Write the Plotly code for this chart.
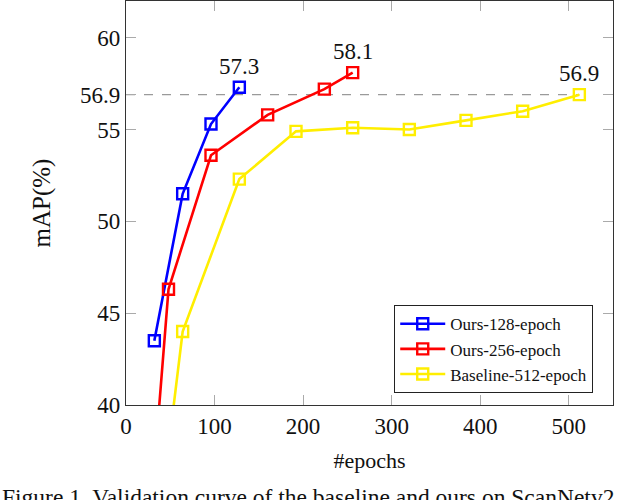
import plotly.graph_objects as go

# Data
ours128_x = [32, 64, 96, 128]
ours128_y = [43.5, 51.5, 55.3, 57.3]

ours256_x = [32, 48, 96, 160, 224, 256]
ours256_y = [36.6, 46.3, 53.6, 55.8, 57.2, 58.1]

base512_x = [32, 64, 128, 192, 256, 320, 384, 448, 512]
base512_y = [31.3, 44.0, 52.3, 54.9, 55.1, 55.0, 55.5, 56.0, 56.9]

ref_level = 56.9
ytick_vals = [40, 45, 50, 55, 56.9, 60]
ytick_text = ["40", "45", "50", "55", "56.9", "60"]
xtick_vals = [0, 100, 200, 300, 400, 500]

SERIF = "Liberation Serif, Times New Roman, serif"

fig = go.Figure()

# dashed reference line
fig.add_trace(go.Scatter(
    x=[0, base512_x[-1]], y=[ref_level, ref_level], mode="lines",
    line=dict(color="#9a9a9a", width=1.3, dash="dash"),
    showlegend=False, hoverinfo="skip"))

series = [
    ("Ours-128-epoch", ours128_x, ours128_y, "#0000ff"),
    ("Ours-256-epoch", ours256_x, ours256_y, "#ff0000"),
    ("Baseline-512-epoch", base512_x, base512_y, "#ffee00"),
]
for name, xs, ys, col in series:
    fig.add_trace(go.Scatter(
        x=xs, y=ys, mode="lines+markers", name=name,
        line=dict(color=col, width=2.6),
        marker=dict(symbol="square-open", size=11, color=col,
                    line=dict(color=col, width=2.4)),
        cliponaxis=True))

# value labels
for xs, ys in [(ours128_x, ours128_y), (ours256_x, ours256_y), (base512_x, base512_y)]:
    fig.add_annotation(x=xs[-1], y=ys[-1], text=f"{ys[-1]:.1f}", showarrow=False,
                       yshift=21, font=dict(family=SERIF, size=23, color="#111"))

# caption (partially cut off at the bottom)
fig.add_annotation(xref="paper", yref="paper", x=-0.2587, y=-0.19,
                   xanchor="left", yanchor="top", showarrow=False,
                   text="Figure 1. Validation curve of the baseline and ours on ScanNetv2.",
                   font=dict(family=SERIF, size=23.5, color="#111"))

axis_common = dict(
    showgrid=False, zeroline=False, showline=True, linecolor="#333", linewidth=1.2,
    mirror="ticks", ticks="inside", ticklen=10, tickcolor="#aaaaaa", tickwidth=1,
    tickfont=dict(family=SERIF, size=23, color="#111"), automargin=False,
)

fig.update_xaxes(range=[0, 550], tickvals=xtick_vals,
                 title=dict(text="#epochs", font=dict(family=SERIF, size=22, color="#111"), standoff=14),
                 **axis_common)
fig.update_yaxes(range=[40, 62], tickvals=ytick_vals, ticktext=ytick_text,
                 title=dict(text="mAP(%)", font=dict(family=SERIF, size=25, color="#111"), standoff=22),
                 **axis_common)

fig.update_layout(
    width=640, height=500,
    margin=dict(l=126, r=27, t=1, b=95, autoexpand=False),
    plot_bgcolor="white", paper_bgcolor="white",
    legend=dict(x=0.959, y=0.2475, xanchor="right", yanchor="top",
                bordercolor="#222", borderwidth=1.2, bgcolor="white",
                font=dict(family=SERIF, size=17, color="#111"),
                tracegroupgap=0, itemwidth=45),
)

fig.write_html("out.html", config={"displayModeBar": False},
               post_script="document.body.style.margin='0';document.body.style.overflow='hidden';")
